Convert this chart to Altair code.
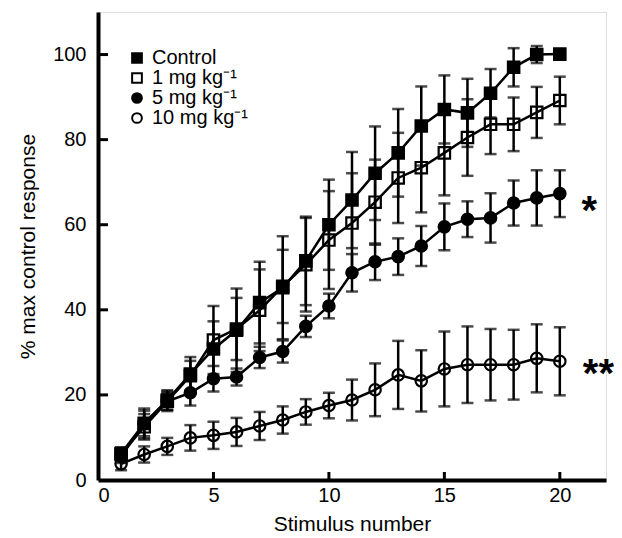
import altair as alt
import pandas as pd

stimulus = list(range(1, 21))

control_mean = [6.2, 13.3, 18.8, 24.9, 30.8, 35.2, 41.7, 45.2, 51.5, 60.0,
                65.8, 72.1, 76.9, 83.2, 87.1, 86.3, 90.9, 97.0, 100.0, 100.1]
control_err = [1.5, 3.5, 2.3, 4.0, 6.5, 9.8, 9.6, 12.1, 10.4, 10.6,
               11.3, 11.0, 10.3, 9.3, 8.0, 8.0, 5.7, 4.5, 2.0, 1.0]

mg1_mean = [6.0, 12.5, 18.5, 24.5, 32.9, 35.5, 39.9, 45.5, 50.6, 56.4,
            60.4, 65.3, 71.0, 73.4, 76.9, 80.5, 83.6, 83.6, 86.4, 89.2]
mg1_err = [1.5, 3.0, 2.3, 3.5, 8.0, 7.3, 9.6, 8.6, 11.0, 11.5,
           11.7, 10.0, 10.6, 10.5, 10.0, 9.0, 7.0, 6.3, 6.0, 5.6]

mg5_mean = [5.5, 13.3, 18.5, 20.5, 23.8, 24.2, 28.8, 30.2, 36.1, 40.9,
            48.7, 51.3, 52.5, 55.0, 59.5, 61.3, 61.6, 65.1, 66.3, 67.3]
mg5_err = [1.5, 3.0, 2.0, 3.0, 3.0, 2.0, 2.5, 2.6, 2.5, 2.9,
           4.4, 4.3, 4.3, 4.7, 5.5, 4.2, 5.8, 5.3, 6.5, 5.5]

mg10_mean = [3.8, 6.0, 7.9, 9.9, 10.5, 11.3, 12.7, 14.1, 16.0, 17.5,
             18.8, 21.2, 24.7, 23.3, 26.1, 27.1, 27.1, 27.1, 28.6, 27.9]
mg10_err = [1.5, 1.9, 2.0, 3.0, 3.2, 3.3, 3.3, 3.2, 3.0, 3.0,
            4.8, 6.2, 8.0, 7.2, 8.8, 9.0, 8.4, 8.2, 8.0, 8.0]

series_names = ["Control", "1 mg kg⁻¹", "5 mg kg⁻¹", "10 mg kg⁻¹"]
series_shapes = ["square", "square", "circle", "circle"]
series_fills = ["black", "white", "black", "white"]
series_strokes = ["black", "black", "black", "black"]

x_ticks = [5, 10, 15, 20]
y_ticks = [20, 40, 60, 80, 100]

sig_labels = ["*", "**"]
sig_x = [21.28, 21.67]
sig_y = [65.3, 27.0]

rows = []
for name, means, errs in zip(series_names,
                             [control_mean, mg1_mean, mg5_mean, mg10_mean],
                             [control_err, mg1_err, mg5_err, mg10_err]):
    for s, m, e in zip(stimulus, means, errs):
        rows.append({"series": name, "x": s, "mean": m,
                     "lo": m - e, "hi": m + e})
df = pd.DataFrame(rows)

FONT = "Liberation Sans"
xscale = alt.Scale(domain=[0, 22], nice=False, zero=False)
yscale = alt.Scale(domain=[0, 110], nice=False, zero=False)

x_axis = alt.Axis(values=[0, 5, 10, 15, 20], title="Stimulus number", grid=False,
                  ticks=False, domainColor="black", domainWidth=4,
                  labelFontSize=20, labelFont=FONT, labelColor="black",
                  labelPadding=5, titleFontSize=21, titleFont=FONT,
                  titleFontWeight="normal", titleColor="black", titlePadding=8)
y_axis = alt.Axis(values=[0, 20, 40, 60, 80, 100], title="% max control response",
                  grid=False, ticks=False, domainColor="black", domainWidth=4,
                  labelFontSize=20, labelFont=FONT, labelColor="black",
                  labelPadding=12, titleFontSize=21, titleFont=FONT,
                  titleFontWeight="normal", titleColor="black", titlePadding=14)

base = alt.Chart(df)

err = base.mark_errorbar(
    ticks={"size": 12, "thickness": 2.5, "color": "black"},
    rule={"strokeWidth": 2.5, "color": "black"},
).encode(
    x=alt.X("x:Q", scale=xscale, axis=x_axis),
    y=alt.Y("lo:Q", scale=yscale, axis=y_axis),
    y2="hi:Q",
)

lines = base.mark_line(color="black", strokeWidth=2.5).encode(
    x=alt.X("x:Q", scale=xscale),
    y=alt.Y("mean:Q", scale=yscale),
    detail="series:N",
)

legend = alt.Legend(orient="none", legendX=29, legendY=36, title=None,
                    labelFontSize=20, labelFont=FONT, labelColor="black",
                    symbolSize=95, symbolStrokeWidth=2,
                    rowPadding=0, labelOffset=5, padding=0)

# open markers: white in the legend, see-through on the plot
points = base.mark_point(strokeWidth=2.2, size=130, opacity=1).encode(
    x=alt.X("x:Q", scale=xscale),
    y=alt.Y("mean:Q", scale=yscale),
    shape=alt.Shape("series:N", scale=alt.Scale(domain=series_names, range=series_shapes),
                    legend=legend),
    fill=alt.Fill("series:N", scale=alt.Scale(domain=series_names, range=series_fills),
                  legend=legend),
    stroke=alt.Stroke("series:N", scale=alt.Scale(domain=series_names, range=series_strokes),
                      legend=legend),
    fillOpacity=alt.condition(
        alt.FieldOneOfPredicate(field="series", oneOf=[series_names[1], series_names[3]]),
        alt.value(0), alt.value(1)),
)

xt = alt.Chart(pd.DataFrame({"v": x_ticks})).mark_rule(color="black", strokeWidth=3).encode(
    x=alt.X("v:Q", scale=xscale), y=alt.value(468), y2=alt.value(460))
yt = alt.Chart(pd.DataFrame({"v": y_ticks})).mark_rule(color="black", strokeWidth=3).encode(
    y=alt.Y("v:Q", scale=yscale), x=alt.value(0), x2=alt.value(10))

sig = alt.Chart(pd.DataFrame({"t": sig_labels, "x": sig_x, "y": sig_y})).mark_text(
    font=FONT, fontSize=40, fontWeight="bold", color="black", dy=22, baseline="alphabetic"
).encode(x=alt.X("x:Q", scale=xscale), y=alt.Y("y:Q", scale=yscale), text="t:N")

chart = alt.layer(err, lines, points, xt, yt, sig).properties(
    width=508, height=468,
    autosize=alt.AutoSizeParams(type="none"),
    padding={"left": 90, "top": 4, "right": 8, "bottom": 58},
).configure_view(stroke=None).configure(background="white")

chart.save("out.html", embed_options={"renderer": "svg", "actions": False})
